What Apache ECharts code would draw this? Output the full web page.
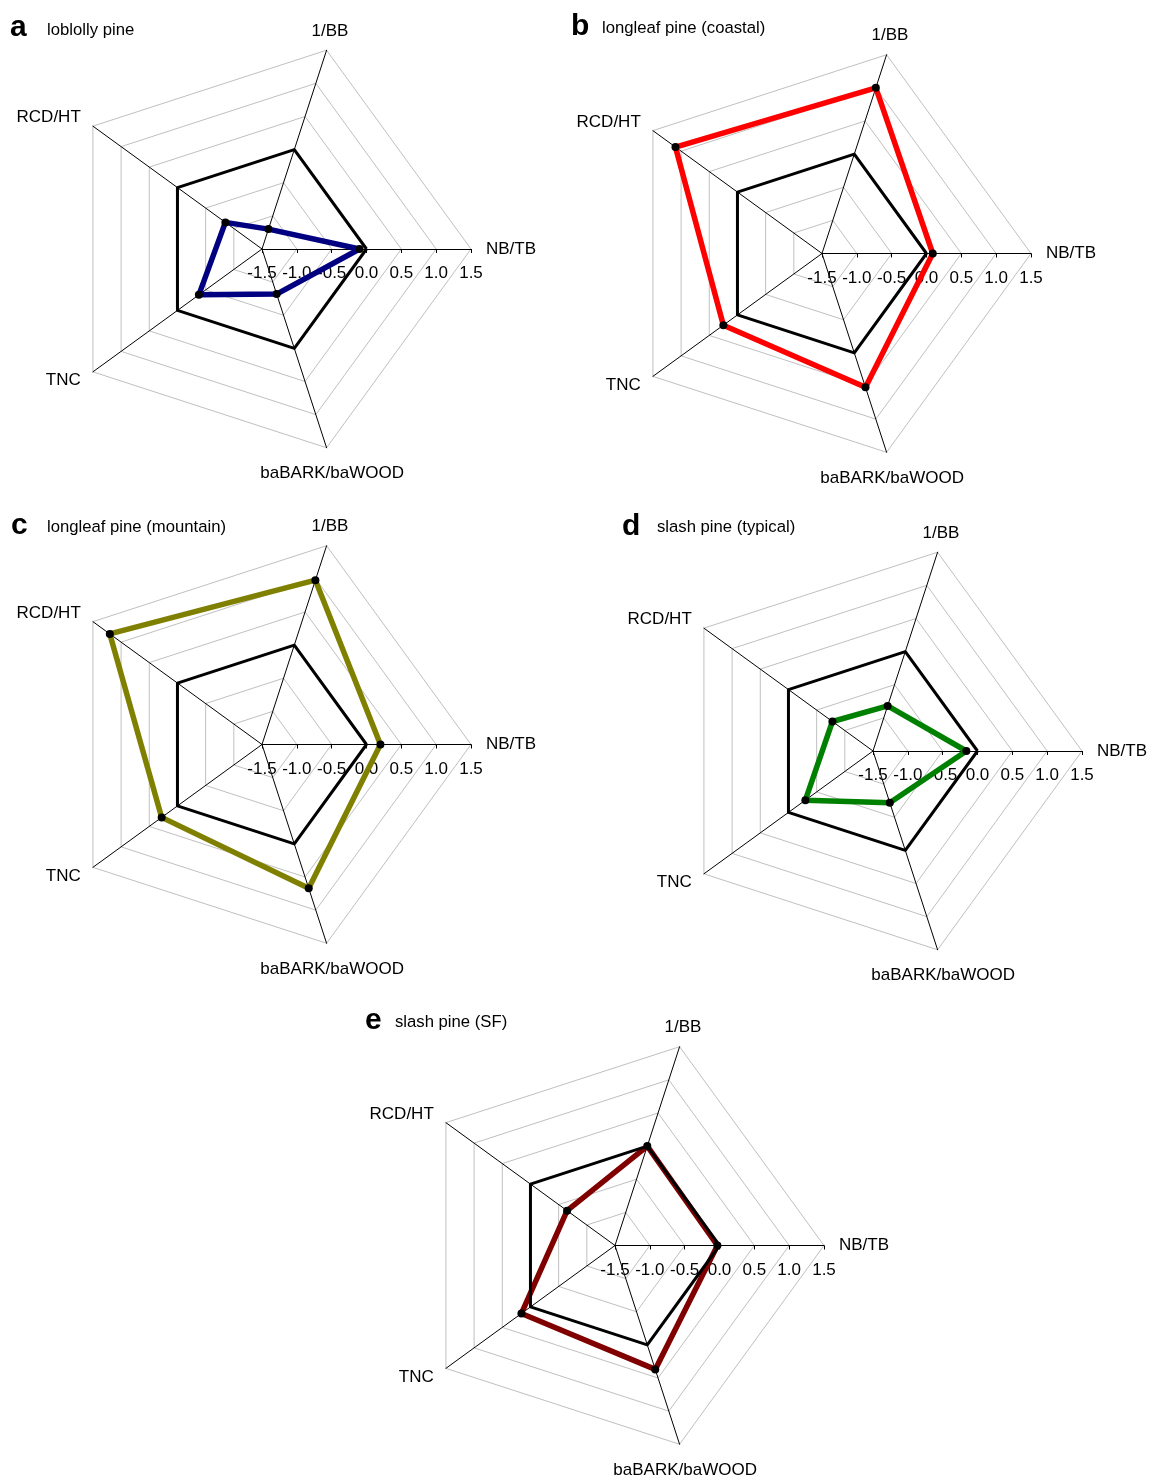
<!DOCTYPE html>
<html>
<head>
<meta charset="utf-8">
<script src="https://cdn.jsdelivr.net/npm/echarts@6/dist/echarts.min.js"></script>
<style>
html,body{margin:0;padding:0;background:#fff;}
#chart{width:1149px;height:1477px;}
</style>
</head>
<body>
<div id="chart"></div>
<script>
// ---- data ----
const indicatorNames = ['NB/TB', '1/BB', 'RCD/HT', 'TNC', 'baBARK/baWOOD'];
const tickLabels = ['-1.5', '-1.0', '-0.5', '0.0', '0.5', '1.0', '1.5'];
const panelLetters = ['a', 'b', 'c', 'd', 'e'];
const panelNames = ['loblolly pine', 'longleaf pine (coastal)', 'longleaf pine (mountain)', 'slash pine (typical)', 'slash pine (SF)'];
const referenceValues = [0, 0, 0, 0, 0];
const loblollyValues = [-0.1, -1.2, -0.85, -0.38, -0.82];
const longleafCoastalValues = [0.09, 1.0, 1.1, 0.25, 0.52];
const longleafMountainValues = [0.2, 0.98, 1.2, 0.28, 0.67];
const slashTypicalValues = [-0.16, -0.82, -0.78, -0.3, -0.72];
const slashSFValues = [-0.03, 0.0, -0.65, 0.16, 0.37];

// ---- layout / style ----
const seriesValues = [loblollyValues, longleafCoastalValues, longleafMountainValues, slashTypicalValues, slashSFValues];
const colors = ['#000080', '#ff0000', '#808000', '#008000', '#800000'];
const centers = [[262, 249], [822, 253.5], [262, 744.5], [873, 751], [615, 1245.5]];
const R = 209;
const FONT = 'Liberation Sans, Arial, Helvetica, sans-serif';
const letterPos = [[10, 38], [571, 37], [11, 536], [622, 536.5], [365, 1030.5]];
const namePos = [[47, 36], [602, 34], [47, 533.3], [657, 533.3], [395, 1027.7]];

const axisMin = -1.5, axisMax = 1.5;
const nameStyles = [
  { gap: 15, style: {} },
  { gap: 11, style: { align: 'center', verticalAlign: 'bottom' } },
  { gap: 15, style: { align: 'right', verticalAlign: 'middle' } },
  { gap: 15, style: { align: 'right', verticalAlign: 'middle' } },
  { gap: 18, style: { align: 'center', verticalAlign: 'top' } }
];

function makeIndicators() {
  return indicatorNames.map((n, i) => {
    const ind = {
      name: n, min: axisMin, max: axisMax,
      nameGap: nameStyles[i].gap,
      nameTextStyle: Object.assign({}, nameStyles[i].style)
    };
    if (i === 0) {
      ind.axisLabel = {
        show: true, color: '#000', fontSize: 17, fontFamily: FONT, margin: -16,
        verticalAlign: 'top',
        formatter: function (v) {
          const t = tickLabels.find(s => Math.abs(parseFloat(s) - v) < 1e-9);
          return t != null ? t : v.toFixed(1);
        }
      };
      ind.axisTick = { show: true, length: -4, lineStyle: { color: '#000', width: 1 } };
    }
    return ind;
  });
}

const radars = centers.map((c, k) => ({
  center: c,
  radius: R,
  startAngle: 0,
  shape: 'polygon',
  splitNumber: 6,
  indicator: makeIndicators(),
  axisName: { color: '#000', fontSize: 17, fontFamily: FONT },
  axisNameGap: 15,
  axisLine: { lineStyle: { color: '#000', width: 1 } },
  axisTick: { show: false },
  axisLabel: { show: false },
  splitLine: { lineStyle: { color: '#c0c0c0', width: 1 } },
  splitArea: { show: false }
}));

const series = seriesValues.map((vals, k) => ({
  type: 'radar',
  radarIndex: k,
  silent: true,
  animation: false,
  data: [
    {
      value: vals,
      symbol: 'circle',
      symbolSize: 8,
      itemStyle: { color: '#000' },
      lineStyle: { color: colors[k], width: 5.5 }
    },
    {
      value: referenceValues,
      symbol: 'none',
      lineStyle: { color: '#000', width: 3 }
    }
  ]
}));

const titles = [];
panelLetters.forEach((l, k) => {
  titles.push({
    text: l, left: letterPos[k][0], top: letterPos[k][1] - 25, padding: 0,
    textStyle: { fontSize: 30, fontWeight: 'bold', color: '#000', fontFamily: FONT }
  });
  titles.push({
    text: panelNames[k], left: namePos[k][0], top: namePos[k][1] - 14, padding: 0,
    textStyle: { fontSize: 16.7, fontWeight: 'normal', color: '#000', fontFamily: FONT }
  });
});

const chart = echarts.init(document.getElementById('chart'), null, { renderer: 'canvas' });
chart.setOption({
  backgroundColor: '#fff',
  animation: false,
  title: titles,
  radar: radars,
  series: series
});
</script>
</body>
</html>
